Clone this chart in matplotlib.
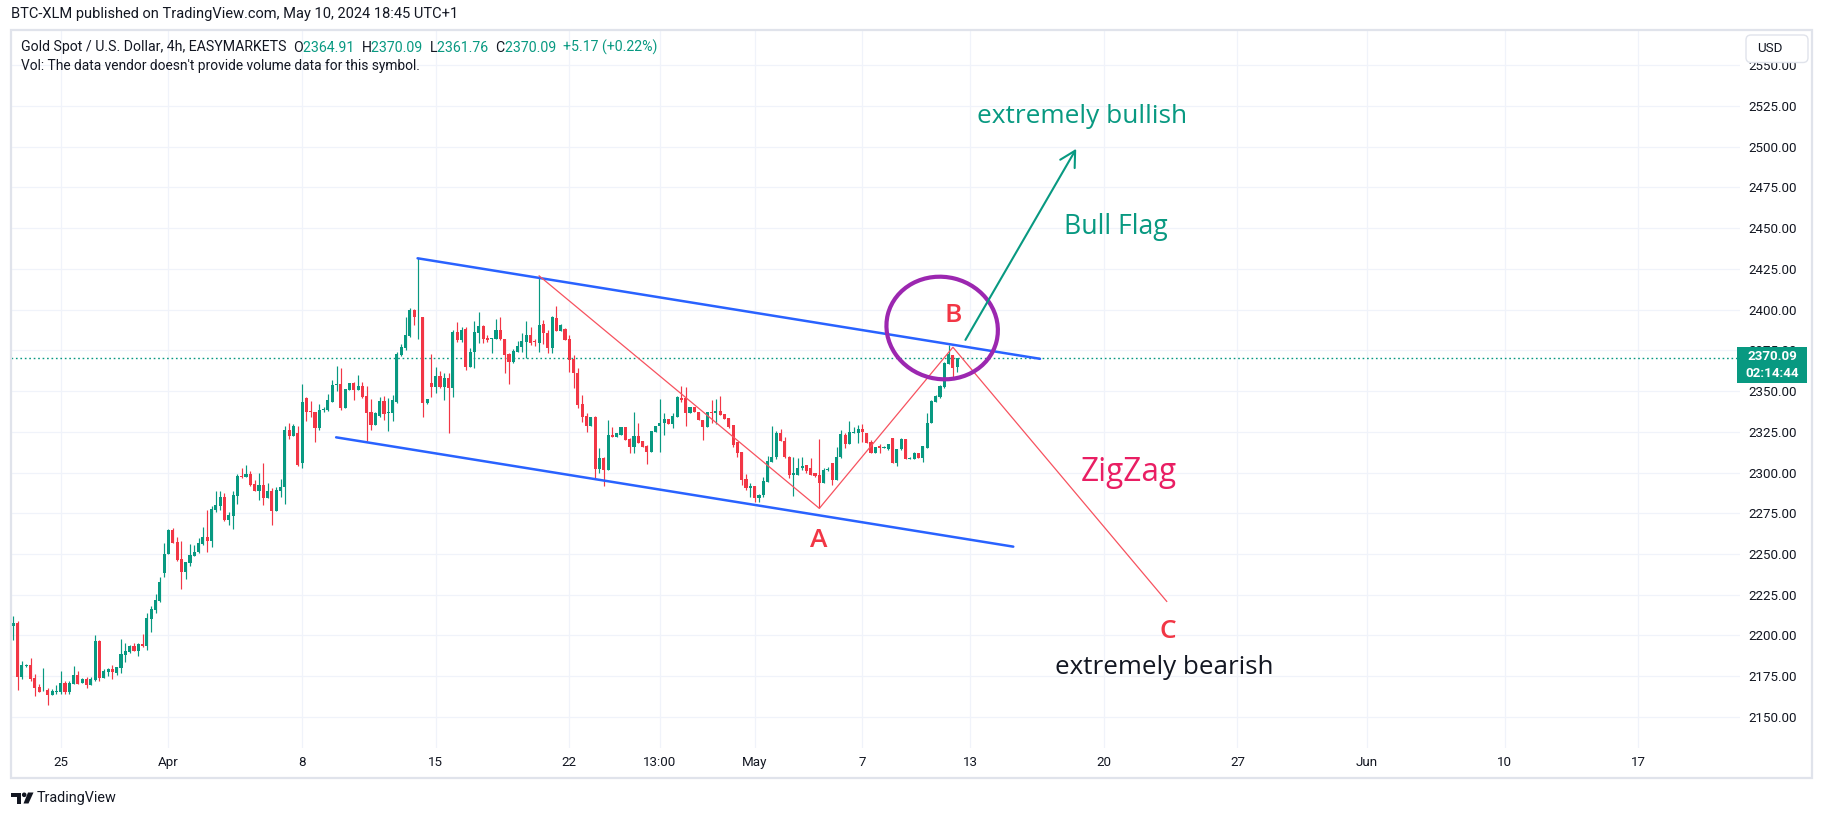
import matplotlib
matplotlib.use("Agg")
import matplotlib.pyplot as plt
from matplotlib.patches import Rectangle, FancyBboxPatch, Ellipse, Circle, Polygon
from matplotlib.transforms import Affine2D, ScaledTranslation
import numpy as np

plt.rcParams['font.family'] = ['Roboto', 'DejaVu Sans']

# ---------------- data (4h bars, index = bar number) ----------------
opens = [
    2205.8, 2207.8, 2174.7, 2181.2, 2181.8, 2173.8, 2168.3, 2166.3, 2166.5, 2163.4,
    2165.5, 2165.3, 2170.8, 2165.3, 2170.4, 2175.7, 2171.0, 2173.2, 2169.8, 2172.6,
    2196.6, 2174.1, 2177.5, 2179.4, 2176.9, 2180.0, 2188.0, 2189.8, 2193.7, 2190.4,
    2194.7, 2193.5, 2210.3, 2215.8, 2221.1, 2238.5, 2249.7, 2264.7, 2257.5, 2246.9,
    2239.1, 2244.2, 2248.7, 2251.0, 2256.1, 2260.4, 2257.9, 2277.0, 2279.6, 2285.2,
    2271.0, 2273.5, 2285.8, 2297.8, 2297.4, 2299.1, 2292.9, 2288.8, 2292.3, 2284.3,
    2288.8, 2276.4, 2288.8, 2290.9, 2326.1, 2322.6, 2324.0, 2305.8, 2345.5, 2337.5,
    2337.3, 2327.1, 2338.5, 2338.3, 2343.3, 2353.7, 2354.3, 2339.8, 2350.6, 2355.1,
    2350.6, 2353.1, 2346.9, 2336.9, 2329.1, 2334.9, 2343.9, 2336.3, 2336.7, 2343.5,
    2372.1, 2376.6, 2384.0, 2399.7, 2395.2, 2395.2, 2342.4, 2354.7, 2352.7, 2359.2,
    2352.7, 2358.2, 2351.7, 2386.2, 2381.3, 2388.1, 2365.0, 2374.0, 2385.8, 2389.9,
    2382.5, 2381.7, 2382.0, 2387.5, 2382.0, 2372.5, 2367.6, 2373.8, 2377.0, 2380.4,
    2384.5, 2380.8, 2379.8, 2391.2, 2385.9, 2376.3, 2394.7, 2387.1, 2388.2, 2382.0,
    2369.7, 2360.9, 2342.1, 2334.7, 2328.6, 2334.3, 2302.0, 2309.2, 2301.6, 2323.1,
    2322.1, 2323.1, 2328.2, 2320.6, 2315.9, 2322.5, 2319.4, 2316.3, 2312.9, 2324.7,
    2328.8, 2330.2, 2332.9, 2329.8, 2334.3, 2346.0, 2345.6, 2336.4, 2340.5, 2337.4,
    2332.3, 2328.2, 2337.4, 2336.3, 2337.8, 2335.7, 2333.3, 2329.2, 2318.9, 2312.8,
    2296.0, 2290.3, 2291.9, 2284.2, 2286.2, 2294.4, 2306.7, 2309.7, 2324.1, 2319.6,
    2309.7, 2298.5, 2298.5, 2302.6, 2304.6, 2302.6, 2299.5, 2298.5, 2293.4, 2301.6,
    2305.6, 2295.4, 2309.7, 2323.1, 2317.5, 2324.1, 2324.5, 2326.5, 2324.5, 2318.9,
    2311.8, 2316.5, 2315.1, 2314.3, 2321.4, 2305.6, 2314.4, 2320.4, 2308.3, 2308.5,
    2312.2, 2308.7, 2315.3, 2330.2, 2343.5, 2346.6, 2352.7, 2366.4, 2372.1, 2364.91,
]
highs = [
    2211.9, 2209.0, 2184.3, 2182.6, 2186.1, 2176.3, 2170.2, 2180.0, 2167.9, 2167.1,
    2169.6, 2178.1, 2172.0, 2172.0, 2181.2, 2178.1, 2173.8, 2174.5, 2174.5, 2200.2,
    2197.2, 2179.4, 2180.0, 2181.8, 2180.6, 2197.8, 2195.3, 2194.1, 2195.3, 2195.3,
    2200.9, 2213.9, 2218.2, 2225.4, 2236.0, 2256.5, 2265.3, 2265.9, 2260.4, 2257.9,
    2244.8, 2256.1, 2255.5, 2260.0, 2266.5, 2277.0, 2279.4, 2288.4, 2288.4, 2287.2,
    2276.0, 2288.4, 2298.9, 2303.0, 2304.6, 2300.9, 2295.4, 2299.5, 2305.8, 2293.3,
    2290.3, 2290.9, 2295.8, 2328.5, 2330.6, 2329.8, 2328.5, 2354.3, 2346.5, 2343.9,
    2337.3, 2342.0, 2340.2, 2348.2, 2356.8, 2365.4, 2363.9, 2351.2, 2354.7, 2355.7,
    2359.8, 2355.7, 2353.1, 2345.1, 2337.3, 2346.5, 2346.9, 2345.9, 2347.6, 2374.2,
    2378.7, 2395.2, 2400.8, 2400.3, 2431.4, 2395.2, 2344.9, 2372.7, 2365.0, 2362.3,
    2361.3, 2361.3, 2387.5, 2392.6, 2389.1, 2389.1, 2376.2, 2393.0, 2398.7, 2390.5,
    2384.4, 2382.7, 2394.2, 2395.2, 2382.0, 2373.1, 2376.0, 2380.7, 2385.4, 2393.1,
    2389.6, 2381.8, 2420.7, 2393.7, 2387.5, 2396.1, 2402.3, 2391.2, 2388.6, 2384.5,
    2372.2, 2364.0, 2347.6, 2336.4, 2333.9, 2334.7, 2314.9, 2309.8, 2332.3, 2328.2,
    2324.5, 2328.2, 2328.2, 2321.0, 2337.4, 2330.7, 2319.4, 2316.9, 2325.7, 2328.8,
    2345.0, 2336.4, 2332.9, 2336.8, 2347.0, 2352.8, 2352.3, 2340.5, 2340.5, 2337.4,
    2332.3, 2337.4, 2344.6, 2345.0, 2347.0, 2335.7, 2333.3, 2329.2, 2318.9, 2312.8,
    2299.1, 2293.8, 2291.9, 2286.8, 2297.5, 2310.1, 2328.6, 2325.5, 2326.5, 2321.6,
    2310.1, 2309.7, 2309.1, 2309.7, 2304.6, 2308.7, 2299.5, 2320.4, 2302.6, 2303.6,
    2305.6, 2315.9, 2326.1, 2324.1, 2331.8, 2327.7, 2329.2, 2329.8, 2324.5, 2320.0,
    2315.9, 2317.3, 2316.1, 2317.3, 2321.4, 2314.4, 2321.4, 2320.4, 2309.3, 2312.8,
    2312.2, 2316.5, 2336.3, 2344.5, 2347.6, 2353.7, 2368.1, 2378.3, 2372.1, 2370.09,
]
lows = [
    2197.2, 2166.5, 2173.2, 2180.8, 2172.0, 2162.8, 2165.5, 2166.0, 2157.3, 2163.4,
    2164.0, 2164.0, 2164.0, 2164.0, 2170.4, 2170.4, 2171.0, 2167.7, 2169.8, 2172.0,
    2172.0, 2174.1, 2175.1, 2173.2, 2175.7, 2176.9, 2183.7, 2189.4, 2190.4, 2187.4,
    2192.9, 2191.0, 2202.3, 2214.0, 2220.3, 2235.6, 2249.7, 2256.9, 2245.7, 2228.5,
    2234.6, 2242.8, 2248.7, 2250.4, 2255.5, 2251.4, 2254.5, 2276.0, 2277.0, 2270.4,
    2268.0, 2265.5, 2280.9, 2296.8, 2297.4, 2291.7, 2288.8, 2283.3, 2280.2, 2284.3,
    2268.0, 2276.4, 2285.0, 2280.9, 2320.5, 2322.6, 2304.0, 2302.8, 2331.8, 2333.8,
    2318.9, 2326.1, 2337.3, 2337.7, 2343.3, 2350.2, 2338.3, 2339.8, 2350.6, 2344.5,
    2350.6, 2345.5, 2319.3, 2326.1, 2329.1, 2333.9, 2332.2, 2325.7, 2331.6, 2342.4,
    2371.5, 2375.2, 2383.0, 2390.5, 2381.9, 2334.3, 2342.0, 2346.5, 2348.6, 2351.7,
    2344.5, 2324.4, 2346.5, 2380.3, 2380.3, 2362.9, 2365.0, 2363.9, 2379.3, 2379.3,
    2380.3, 2373.1, 2382.0, 2381.3, 2361.3, 2354.1, 2367.4, 2373.8, 2373.8, 2370.1,
    2378.3, 2377.7, 2374.2, 2378.9, 2373.2, 2373.6, 2387.1, 2387.1, 2381.4, 2362.0,
    2351.7, 2339.5, 2331.3, 2325.1, 2328.6, 2295.9, 2299.6, 2291.8, 2301.6, 2322.1,
    2321.7, 2323.1, 2320.0, 2312.2, 2312.2, 2318.0, 2315.9, 2305.3, 2312.9, 2324.7,
    2312.9, 2323.1, 2329.8, 2327.2, 2333.9, 2343.5, 2328.8, 2336.4, 2337.0, 2332.3,
    2320.0, 2328.2, 2330.2, 2330.0, 2335.3, 2332.9, 2327.1, 2315.9, 2309.7, 2292.3,
    2289.3, 2285.2, 2282.1, 2282.1, 2285.2, 2294.4, 2306.7, 2308.1, 2319.6, 2308.7,
    2296.4, 2285.6, 2298.5, 2301.6, 2299.5, 2298.5, 2297.5, 2278.0, 2293.4, 2301.2,
    2292.3, 2295.4, 2308.7, 2314.9, 2317.5, 2324.1, 2317.9, 2318.5, 2317.9, 2311.8,
    2311.8, 2311.8, 2314.9, 2314.0, 2305.6, 2304.2, 2313.8, 2308.3, 2308.1, 2308.1,
    2308.7, 2306.7, 2315.3, 2330.2, 2343.5, 2345.9, 2351.7, 2366.4, 2357.2, 2361.76,
]
closes = [
    2207.8, 2174.7, 2181.8, 2181.8, 2173.2, 2167.9, 2165.5, 2166.5, 2163.4, 2165.9,
    2165.9, 2170.8, 2165.3, 2170.8, 2175.7, 2170.4, 2173.2, 2169.8, 2173.2, 2196.6,
    2174.1, 2178.1, 2179.4, 2177.5, 2180.6, 2188.6, 2190.4, 2193.7, 2190.4, 2194.7,
    2193.5, 2210.9, 2216.2, 2221.7, 2232.6, 2249.7, 2264.7, 2256.9, 2246.3, 2239.1,
    2244.8, 2249.3, 2251.4, 2256.9, 2260.4, 2257.9, 2277.8, 2280.0, 2285.2, 2271.0,
    2273.9, 2286.2, 2297.8, 2297.2, 2299.1, 2292.3, 2288.8, 2292.3, 2284.3, 2288.4,
    2276.4, 2289.2, 2291.3, 2326.1, 2322.6, 2328.5, 2304.4, 2343.1, 2337.3, 2337.1,
    2327.5, 2338.3, 2339.0, 2344.3, 2353.7, 2354.3, 2339.8, 2351.2, 2354.7, 2350.6,
    2353.1, 2346.5, 2336.7, 2329.1, 2336.3, 2343.9, 2335.9, 2336.9, 2344.5, 2372.7,
    2377.2, 2384.4, 2399.7, 2395.2, 2395.4, 2342.8, 2344.9, 2352.7, 2359.2, 2352.7,
    2358.2, 2351.7, 2386.2, 2381.3, 2387.5, 2365.0, 2374.2, 2386.4, 2389.9, 2382.0,
    2381.3, 2382.5, 2387.5, 2381.7, 2372.1, 2367.6, 2374.6, 2377.6, 2380.9, 2384.5,
    2379.8, 2380.0, 2390.6, 2385.5, 2376.3, 2395.3, 2387.1, 2390.6, 2381.4, 2369.1,
    2360.9, 2341.5, 2334.3, 2328.6, 2333.9, 2302.0, 2309.2, 2301.6, 2323.1, 2322.1,
    2324.1, 2328.2, 2320.0, 2315.9, 2322.5, 2318.4, 2315.9, 2312.9, 2325.7, 2328.8,
    2330.2, 2332.9, 2329.8, 2334.9, 2346.2, 2344.6, 2336.4, 2340.5, 2337.0, 2332.3,
    2328.2, 2337.4, 2336.4, 2337.8, 2335.3, 2332.9, 2328.2, 2316.9, 2311.8, 2295.4,
    2290.3, 2291.9, 2284.2, 2286.2, 2294.8, 2307.1, 2309.7, 2324.1, 2319.6, 2309.7,
    2298.5, 2299.9, 2303.0, 2304.2, 2301.1, 2298.5, 2298.1, 2293.4, 2301.6, 2302.2,
    2295.4, 2309.7, 2323.5, 2317.5, 2325.1, 2325.1, 2326.5, 2324.7, 2318.3, 2311.8,
    2315.9, 2314.9, 2315.9, 2317.3, 2305.6, 2314.4, 2320.4, 2308.3, 2309.1, 2312.2,
    2308.7, 2316.5, 2330.6, 2343.9, 2347.0, 2353.1, 2367.0, 2372.7, 2364.0, 2370.09,
]

last_price = 2370.09
countdown = "02:14:44"

time_tick_pos = [11, 36, 67, 98, 129, 150, 172, 197, 222, 253, 284, 314, 346, 377]
time_tick_labels = ["25", "Apr", "8", "15", "22", "13:00", "May", "7", "13",
                    "20", "27", "Jun", "10", "17"]
price_ticks = list(range(2150, 2551, 25))

# drawings (bar index, price)
upper_channel_x = [93.8, 238.2]
upper_channel_y = [2431.5, 2369.8]
lower_channel_x = [74.9, 232.0]
lower_channel_y = [2321.6, 2254.5]
zigzag_x = [122.0, 187.0, 218.0, 267.6]
zigzag_y = [2420.7, 2278.0, 2376.9, 2220.9]
arrow_from = (220.9, 2381.4)
arrow_to = (246.6, 2498.7)
circle_center = (215.5, 2388.7)

GREEN = '#089981'
RED = '#f23645'
TXT = '#131722'
GRID = '#f0f3fa'

# ---------------- figure ----------------
W, H = 1824, 818
fig = plt.figure(figsize=(W / 100, H / 100), dpi=100)
fig.patch.set_facecolor('white')

pl, pr, pt, pb = 11, 1740, 31, 747.7
ax = fig.add_axes([pl / W, 1 - pb / H, (pr - pl) / W, (pb - pt) / H])
ax.set_facecolor('white')
ax.set_xlim(-0.53, 400.6)
ax.set_ylim(2131.1, 2571.0)
for s in ax.spines.values():
    s.set_visible(False)

ax.set_xticks(time_tick_pos)
ax.set_xticklabels(time_tick_labels)
ax.set_yticks(price_ticks)
ax.set_yticklabels([f"{v:.2f}" for v in price_ticks])
ax.yaxis.tick_right()
ax.tick_params(axis='both', length=0, labelsize=9.6, labelcolor=TXT)
ax.tick_params(axis='y', pad=6)
ax.tick_params(axis='x', pad=6)
ax.grid(True, color=GRID, lw=0.9, zorder=0)
ax.set_axisbelow(True)

# candles
idx = np.arange(len(opens))
o = np.array(opens); c = np.array(closes)
h = np.array(highs); l = np.array(lows)
cols = np.where(c >= o, GREEN, RED)
ax.vlines(idx, l, h, colors=cols, lw=0.85, zorder=3)
ax.bar(idx, np.maximum(np.abs(c - o), 0.45), bottom=np.minimum(o, c),
       width=0.72, color=cols, linewidth=0, zorder=3)

# current price dotted line
ax.axhline(last_price, color=GREEN, lw=1.0, ls=(0, (1.2, 2.0)), zorder=2)

# channel lines
ax.plot(upper_channel_x, upper_channel_y, color='#2962ff', lw=1.8, zorder=5,
        solid_capstyle='round')
ax.plot(lower_channel_x, lower_channel_y, color='#2962ff', lw=1.8, zorder=5,
        solid_capstyle='round')
# zigzag
ax.plot(zigzag_x, zigzag_y, color='#f7525f', lw=0.9, zorder=5)

# hand-drawn circle around B (size in pixels)
circ_tr = Affine2D() + ScaledTranslation(circle_center[0], circle_center[1], ax.transData)
ax.add_patch(Ellipse((0, 0), 112, 102, angle=-14, fill=False, ec='#9c27b0',
                     lw=3.0, transform=circ_tr, zorder=6))

# bull flag arrow
ax.annotate('', xy=arrow_to, xytext=arrow_from,
            arrowprops=dict(arrowstyle='->,head_length=0.55,head_width=0.3',
                            color=GREEN, lw=1.5, shrinkA=0, shrinkB=0,
                            mutation_scale=20), zorder=6)

AF = ['Open Sans', 'DejaVu Sans']
ax.text(248.0, 2518.7, 'extremely bullish', color=GREEN, fontsize=18.9,
        ha='center', va='center', family=AF, zorder=7)
ax.text(255.8, 2450.8, 'Bull Flag', color=GREEN, fontsize=19.2,
        ha='center', va='center', family=AF, zorder=7)
ax.text(218.1, 2396.1, 'B', color=RED, fontsize=19, fontweight='semibold',
        ha='center', va='center', family=AF, zorder=7)
ax.text(186.9, 2258.0, 'A', color=RED, fontsize=19, fontweight='semibold',
        ha='center', va='center', family=AF, zorder=7)
ax.text(267.9, 2202.3, 'C', color=RED, fontsize=19, fontweight='semibold',
        ha='center', va='center', family=AF, zorder=7)
ax.text(258.8, 2300.3, 'ZigZag', color='#e91e63', fontsize=22.7,
        ha='center', va='center', family=AF, zorder=7)
ax.text(267.1, 2180.2, 'extremely bearish', color=TXT, fontsize=18.7,
        ha='center', va='center', family=AF, zorder=7)

# ---------------- overlay (pixel coordinates, y down) ----------------
ov = fig.add_axes([0, 0, 1, 1], zorder=10)
ov.set_xlim(0, W)
ov.set_ylim(H, 0)
ov.axis('off')
ov.patch.set_alpha(0)

# frame
ov.add_patch(Rectangle((11, 30), 1801, 748, fill=False, ec='#e0e3eb', lw=1.6))

# price label box
ov.add_patch(Rectangle((1737, 346.5), 70, 36.5, fc=GREEN, ec='none'))
ov.text(1772, 356, f"{last_price:.2f}", color='white', fontsize=9.6,
        fontweight='bold', ha='center', va='center')
ov.text(1772, 373.5, countdown, color='white', fontsize=9.6,
        fontweight='bold', ha='center', va='center')

# USD box
ov.add_patch(FancyBboxPatch((1746, 35), 62, 27.5,
                            boxstyle='round,pad=0,rounding_size=5',
                            fc='white', ec='#e0e3eb', lw=1.0))
ov.text(1757, 49, 'USD', color=TXT, fontsize=9.6, ha='left', va='center')

fig.canvas.draw()
renderer = fig.canvas.get_renderer()


def seq_text(x, y, parts, size):
    for s, col in parts:
        t = ov.text(x, y, s, color=col, fontsize=size, ha='left', va='center')
        bb = t.get_window_extent(renderer)
        x += bb.width


ov.text(11, 14, 'BTC-XLM published on TradingView.com, May 10, 2024 18:45 UTC+1',
        color=TXT, fontsize=10.55, ha='left', va='center')

hdr = [
    ('Gold Spot / U.S. Dollar, 4h, EASYMARKETS  ', TXT),
    ('O', TXT), ('2364.91  ', GREEN),
    ('H', TXT), ('2370.09  ', GREEN),
    ('L', TXT), ('2361.76  ', GREEN),
    ('C', TXT), ('2370.09  ', GREEN),
    ('+5.17 (+0.22%)', GREEN),
]
seq_text(21, 47.5, hdr, 10.2)
ov.text(21, 66, "Vol: The data vendor doesn't provide volume data for this symbol.",
        color=TXT, fontsize=9.9, ha='left', va='center')

# footer logo + name
ov.add_patch(Polygon([(11, 792.5), (21, 792.5), (21, 803.5), (17, 803.5),
                      (17, 796.5), (11, 796.5)], closed=True, fc=TXT, ec='none'))
ov.add_patch(Circle((24.2, 794.8), 2.3, fc=TXT, ec='none'))
ov.add_patch(Polygon([(28, 792.5), (33.5, 792.5), (28.5, 803.5), (23.5, 803.5)],
                     closed=True, fc=TXT, ec='none'))
ov.text(37, 798, 'TradingView', color=TXT, fontsize=10.4, ha='left', va='center')

fig.savefig('out.png', dpi=100, facecolor='white')
